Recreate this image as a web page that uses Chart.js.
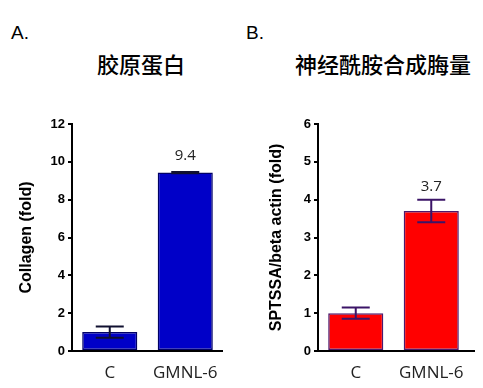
<!DOCTYPE html>
<html>
<head>
<meta charset="utf-8">
<script src="https://cdn.jsdelivr.net/npm/chart.js@4.4.1/dist/chart.umd.min.js"></script>
<style>
  html, body { margin: 0; padding: 0; background: #fff; }
  body { width: 483px; height: 388px; position: relative; overflow: hidden; }
  .txt { position: absolute; white-space: nowrap; color: #000; }
  .panel { font: 19px "Liberation Sans", Arial, sans-serif; }
  .title { font: 500 22px "Noto Sans CJK SC", sans-serif; line-height: 1; }
  .box { position: absolute; }
</style>
</head>
<body>
<div class="txt panel" style="left:11px; top:22px;">A.</div>
<div class="txt panel" style="left:246px; top:22px;">B.</div>
<div class="txt title" style="left:97px; top:52px;">胶原蛋白</div>
<div class="txt title" style="left:295px; top:52px;">神经酰胺合成脢量</div>
<div class="box" style="left:0; top:100px; width:240px; height:288px;"><canvas id="c1"></canvas></div>
<div class="box" style="left:240px; top:100px; width:243px; height:288px;"><canvas id="c2"></canvas></div>
<script>
// ---- data ----
const categories = ['C', 'GMNL-6'];
const collagenValues = [1.0, 9.43];
const collagenErrors = [0.3, 0.03];
const collagenLabels = [null, '9.4'];
const collagenTicks = { max: 12, step: 2 };

const sptssaValues = [1.0, 3.7];
const sptssaErrors = [0.15, 0.3];
const sptssaLabels = [null, '3.7'];
const sptssaTicks = { max: 6, step: 1 };

const errorBarPlugin = {
  id: 'errorBars',
  afterDatasetsDraw(chart, args, opts) {
    const ctx = chart.ctx;
    const meta = chart.getDatasetMeta(0);
    const ys = chart.scales.y;
    const ds = chart.data.datasets[0];
    ctx.save();
    ctx.strokeStyle = opts.color;
    ctx.lineWidth = 2;
    meta.data.forEach((bar, i) => {
      const v = ds.data[i], e = opts.errors[i];
      const yt = ys.getPixelForValue(v + e);
      const yb = ys.getPixelForValue(v - e);
      const x = bar.x, hw = opts.capWidth / 2;
      ctx.beginPath();
      ctx.moveTo(x, yt); ctx.lineTo(x, yb);
      ctx.moveTo(x - hw, yt); ctx.lineTo(x + hw, yt);
      ctx.moveTo(x - hw, yb); ctx.lineTo(x + hw, yb);
      ctx.stroke();
      const lab = opts.labels[i];
      if (lab) {
        ctx.fillStyle = '#222';
        ctx.font = '15px "Open Sans", sans-serif';
        ctx.textAlign = 'center';
        ctx.textBaseline = 'alphabetic';
        ctx.fillText(lab, x, yt - opts.labelGap);
      }
    });
    // x axis line
    const ca = chart.chartArea;
    ctx.strokeStyle = '#000';
    ctx.lineWidth = 2;
    ctx.beginPath();
    ctx.moveTo(ca.left - 1, ca.bottom);
    ctx.lineTo(ca.right + opts.axisExtra, ca.bottom);
    ctx.stroke();
    ctx.restore();
  }
};

function makeChart(id, cfg) {
  return new Chart(document.getElementById(id), {
    type: 'bar',
    data: {
      labels: categories,
      datasets: [{
        data: cfg.values,
        backgroundColor: cfg.fill,
        borderColor: cfg.border,
        borderWidth: 1.5,
        borderSkipped: false,
        categoryPercentage: 1.0,
        barPercentage: 0.73
      }]
    },
    options: {
      responsive: true,
      maintainAspectRatio: false,
      animation: false,
      layout: { padding: { left: 0, right: cfg.padRight, top: 24, bottom: 0 } },
      plugins: {
        legend: { display: false },
        tooltip: { enabled: false },
        errorBars: { errors: cfg.errors, labels: cfg.labels, color: cfg.errColor, capWidth: 28, labelGap: cfg.labelGap, axisExtra: cfg.axisExtra }
      },
      scales: {
        x: {
          grid: { display: false, drawTicks: false },
          border: { display: false },
          ticks: { color: '#222', font: { family: '"Open Sans", sans-serif', size: 17 }, padding: 12 },
          afterFit(s) { s.height = 37; }
        },
        y: {
          min: 0, max: cfg.ticks.max,
          grid: { drawOnChartArea: false, drawTicks: true, tickLength: 4, tickColor: '#000', lineWidth: 2 },
          border: { display: true, color: '#000', width: 2 },
          ticks: { stepSize: cfg.ticks.step, color: '#000', padding: 3, font: { family: '"Liberation Sans", Arial, sans-serif', size: 13, weight: 'bold' } },
          title: { display: true, text: cfg.yTitle, color: '#000', padding: { top: cfg.titlePad, bottom: 0 }, font: { family: '"Liberation Sans", Arial, sans-serif', size: 16, weight: 'bold' } },
          afterFit(s) { s.width = cfg.axisX; }
        }
      }
    },
    plugins: [errorBarPlugin]
  });
}

makeChart('c1', {
  values: collagenValues, errors: collagenErrors, labels: collagenLabels, ticks: collagenTicks,
  fill: '#0000c8', border: '#000066', errColor: '#101030', yTitle: 'Collagen (fold)',
  axisX: 72, padRight: 17, titlePad: 17, labelGap: 12, axisExtra: 0
});
makeChart('c2', {
  values: sptssaValues, errors: sptssaErrors, labels: sptssaLabels, ticks: sptssaTicks,
  fill: '#ff0000', border: '#4b1a6e', errColor: '#3b1467', yTitle: 'SPTSSA/beta actin (fold)',
  axisX: 78, padRight: 14, titlePad: 27, labelGap: 9, axisExtra: 6
});
</script>
</body>
</html>
